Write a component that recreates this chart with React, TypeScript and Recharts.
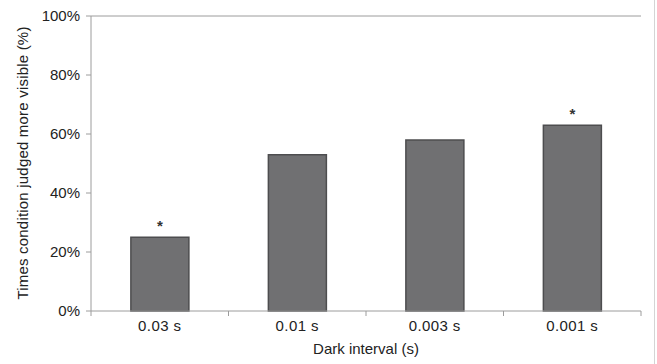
import React from 'react';
import { BarChart, Bar, XAxis, YAxis, ReferenceLine, LabelList } from 'recharts';

// values
const categories = ['0.03 s', '0.01 s', '0.003 s', '0.001 s'];
const percentVisible = [25, 53, 58, 63];
const significance = ['*', '', '', '*'];
const yTicks = [0, 20, 40, 60, 80, 100];

const data = categories.map((name, i) => ({
  name,
  value: percentVisible[i],
  sig: significance[i],
}));

const W = 657;
const H = 364;
const AXIS = '#9c9c9c';
const FONT = '"Liberation Sans", Arial, sans-serif';
const BAND = (W - 91 - 16) / categories.length;

const XTick = (props: any) => {
  const { x, y, payload, index } = props;
  return (
    <g>
      <line x1={x - BAND / 2} x2={x - BAND / 2} y1={y} y2={y + 5} stroke={AXIS} />
      {index === categories.length - 1 && (
        <line x1={x + BAND / 2} x2={x + BAND / 2} y1={y} y2={y + 5} stroke={AXIS} />
      )}
      <text x={x} y={y + 20} textAnchor="middle" fontSize={15} letterSpacing={0.4} fill="#222" fontFamily={FONT}>
        {payload.value}
      </text>
    </g>
  );
};

const YTitle = () => (
  <text
    x={22}
    y={163}
    transform="rotate(-90 22 163)"
    textAnchor="middle"
    dominantBaseline="central"
    fontSize={15}
    letterSpacing={0.2}
    fill="#222"
    fontFamily={FONT}
  >
    Times condition judged more visible (%)
  </text>
);

export default function App() {
  return (
    <div style={{ position: 'relative', width: W, height: H, background: '#fff' }}>
      <style>{'body{margin:0}'}</style>
      <BarChart
        width={W}
        height={H}
        data={data}
        margin={{ top: 16, right: 16, left: 0, bottom: 0 }}
        barCategoryGap="29%"
      >
        <XAxis
          dataKey="name"
          height={53}
          tickLine={false}
          tickSize={0}
          tickMargin={0}
          axisLine={{ stroke: AXIS }}
          tick={<XTick />}
          interval={0}
          label={{
            value: 'Dark interval (s)',
            position: 'insideBottom',
            offset: 10,
            fontSize: 15,
            fill: '#222',
            fontFamily: FONT,
          }}
        />
        <YAxis
          width={91}
          domain={[0, 100]}
          ticks={yTicks}
          tickFormatter={(v: number) => `${v}%`}
          tickSize={5}
          tickMargin={6}
          axisLine={{ stroke: AXIS }}
          tickLine={{ stroke: AXIS }}
          tick={{ fontSize: 15, fill: '#222', fontFamily: FONT }}
          label={<YTitle />}
        />
        <YAxis
          yAxisId="right"
          orientation="right"
          width={0}
          domain={[0, 100]}
          tick={false}
          tickLine={false}
          axisLine={{ stroke: AXIS }}
        />
        <ReferenceLine y={100} stroke={AXIS} />
        <Bar dataKey="value" fill="#707072" stroke="#4d4d4f" strokeWidth={1.5} isAnimationActive={false}>
          <LabelList dataKey="sig" position="top" offset={6} fontSize={15} fontWeight="bold" fill="#333" fontFamily={FONT} />
        </Bar>
      </BarChart>
      <div style={{ position: 'absolute', left: 654, top: 0, width: 1, height: H, background: '#d4d4d4' }} />
    </div>
  );
}
